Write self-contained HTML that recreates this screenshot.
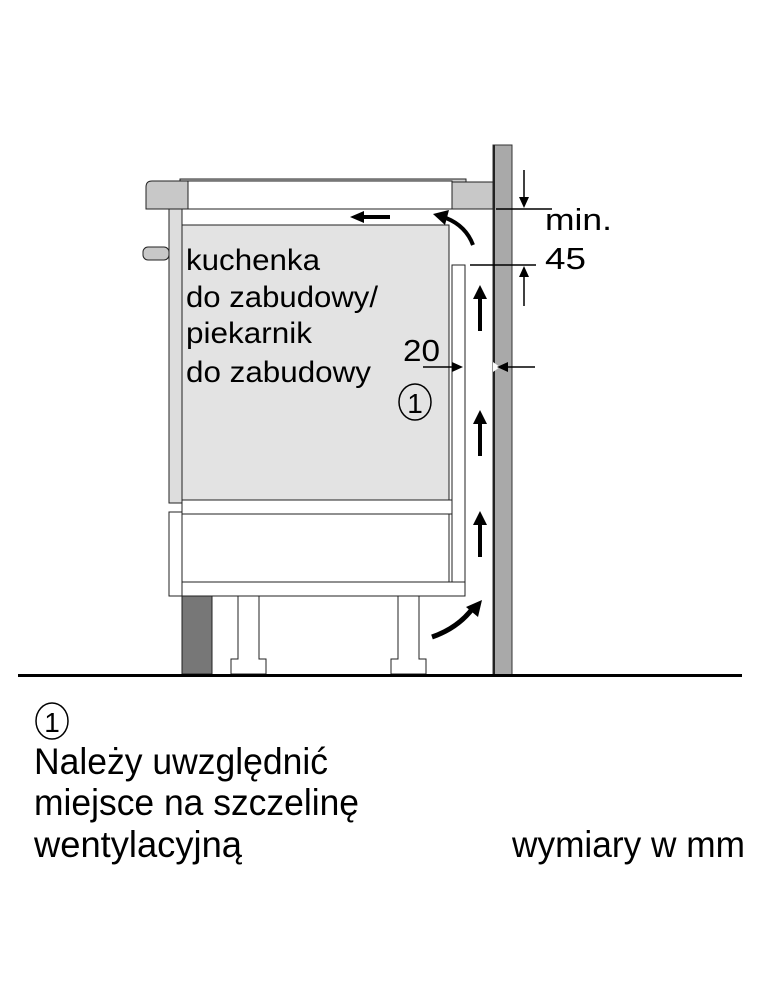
<!DOCTYPE html>
<html><head><meta charset="utf-8"><style>html,body{margin:0;padding:0;background:#fff}svg{display:block}</style></head>
<body>
<svg width="760" height="1000" viewBox="0 0 760 1000" xmlns="http://www.w3.org/2000/svg" font-family="Liberation Sans, sans-serif">
<rect width="760" height="1000" fill="#fff"/>
<!-- wall -->
<rect x="493" y="145" width="19" height="530" fill="#a9a9a9" stroke="#333" stroke-width="1"/>
<rect x="493" y="145" width="2" height="530" fill="#222"/>
<path d="M493,362 L500,367 L493,372 Z" fill="#fff"/>
<!-- hob -->
<rect x="180" y="179" width="286" height="4" fill="#ccc" stroke="#222"/>
<path d="M188,181 L152,181 Q146,181 146,187 L146,209 L188,209 Z" fill="#c8c8c8" stroke="#222"/>
<rect x="188" y="181" width="264" height="28" fill="#fff" stroke="#222"/>
<rect x="452" y="182" width="41" height="27" fill="#c8c8c8" stroke="#222"/>
<!-- cabinet front panels -->
<rect x="169" y="209" width="13" height="294" fill="#ddd" stroke="#222"/>
<rect x="169" y="512" width="13" height="84" fill="#fff" stroke="#222"/>
<rect x="143" y="247" width="26" height="13" rx="5" fill="#c8c8c8" stroke="#222"/>
<!-- oven -->
<rect x="182" y="225" width="267" height="275" fill="#e3e3e3" stroke="#222"/>
<rect x="452" y="265" width="13" height="317" fill="#fff" stroke="#222"/>
<rect x="182" y="500" width="270" height="14" fill="#fff" stroke="#222"/>
<rect x="182" y="514" width="267" height="68" fill="#fff" stroke="#222"/>
<rect x="182" y="582" width="283" height="14" fill="#fff" stroke="#222"/>
<!-- plinth and feet -->
<rect x="182" y="596" width="30" height="78" fill="#777" stroke="#222"/>
<path d="M238,596 V659 H231 V674 H266 V659 H259 V596 Z" fill="#fff" stroke="#222"/>
<path d="M398,596 V659 H391 V674 H426 V659 H419 V596 Z" fill="#fff" stroke="#222"/>
<!-- floor -->
<rect x="18" y="674" width="724" height="3" fill="#000"/>
<!-- air arrows -->
<rect x="363" y="215" width="27" height="4" fill="#000"/>
<path d="M350,217 L364,211 L364,223 Z" fill="#000"/>
<path d="M473,245 Q466,226 446,218" fill="none" stroke="#000" stroke-width="4"/>
<path d="M433,214 L449,210 L445,225 Z" fill="#000"/>
<g fill="#000">
<rect x="478" y="297" width="4" height="34"/><path d="M473,299 L480,285 L487,299 Z"/>
<rect x="478" y="422" width="4" height="34"/><path d="M473,424 L480,410 L487,424 Z"/>
<rect x="478" y="523" width="4" height="34"/><path d="M473,525 L480,511 L487,525 Z"/>
</g>
<path d="M432,637 Q458,628 473,608" fill="none" stroke="#000" stroke-width="5"/>
<path d="M482,600 L478,617 L466,607 Z" fill="#000"/>
<!-- dimensions -->
<g stroke="#000" stroke-width="1.5" fill="none">
<line x1="496" y1="209" x2="552" y2="209"/>
<line x1="470" y1="265" x2="536" y2="265"/>
<line x1="524" y1="170" x2="524" y2="200"/>
<line x1="524" y1="275" x2="524" y2="306"/>
<line x1="423" y1="367" x2="455" y2="367"/>
<line x1="505" y1="367" x2="535" y2="367"/>
</g>
<g fill="#000">
<path d="M519,197 L529,197 L524,208 Z"/>
<path d="M519,277 L529,277 L524,266 Z"/>
<path d="M452,362 L452,372 L463,367 Z"/>
<path d="M508,362 L508,372 L497,367 Z"/>
</g>
<g font-size="31" fill="#000">
<text x="545" y="230" textLength="67" lengthAdjust="spacingAndGlyphs">min.</text>
<text x="545" y="269" textLength="41" lengthAdjust="spacingAndGlyphs">45</text>
<text x="403" y="361" textLength="37" lengthAdjust="spacingAndGlyphs">20</text>
</g>
<g font-size="30" fill="#000">
<text x="186" y="270" textLength="134" lengthAdjust="spacingAndGlyphs">kuchenka</text>
<text x="186" y="307" textLength="192" lengthAdjust="spacingAndGlyphs">do zabudowy/</text>
<text x="186" y="343" textLength="126" lengthAdjust="spacingAndGlyphs">piekarnik</text>
<text x="186" y="382" textLength="185" lengthAdjust="spacingAndGlyphs">do zabudowy</text>
</g>
<ellipse cx="415" cy="402" rx="16" ry="18" fill="none" stroke="#000" stroke-width="1.5"/>
<text x="415" y="413" font-size="28" text-anchor="middle">1</text>
<ellipse cx="52" cy="721" rx="16" ry="18" fill="none" stroke="#000" stroke-width="1.5"/>
<text x="52" y="732" font-size="28" text-anchor="middle">1</text>
<g font-size="37" fill="#000">
<text x="34" y="774" textLength="294" lengthAdjust="spacingAndGlyphs">Należy uwzględnić</text>
<text x="34" y="815" textLength="325" lengthAdjust="spacingAndGlyphs">miejsce na szczelinę</text>
<text x="34" y="857" textLength="208" lengthAdjust="spacingAndGlyphs">wentylacyjną</text>
<text x="512" y="857" textLength="233" lengthAdjust="spacingAndGlyphs">wymiary w mm</text>
</g>
</svg>
</body></html>
